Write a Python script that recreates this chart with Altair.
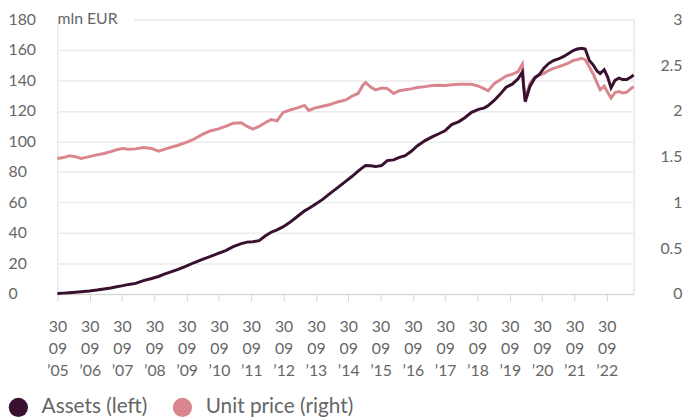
import altair as alt
import pandas as pd

dates = [
    "2005-09-30", "2005-12-05", "2006-02-15", "2006-04-20", "2006-06-25", "2006-09-25",
    "2006-12-20", "2007-03-10", "2007-05-25", "2007-08-01", "2007-10-10", "2007-12-15",
    "2008-03-01", "2008-05-30", "2008-08-30", "2008-11-15", "2009-01-20", "2009-03-28",
    "2009-06-25", "2009-09-25", "2009-12-20", "2010-03-20", "2010-06-20", "2010-09-15",
    "2010-12-15", "2011-03-10", "2011-06-10", "2011-08-15", "2011-10-20", "2011-12-28",
    "2012-03-05", "2012-05-12", "2012-07-18", "2012-09-22", "2012-12-10", "2013-02-25",
    "2013-05-25", "2013-07-10", "2013-09-15", "2013-12-15", "2014-03-10", "2014-06-10",
    "2014-09-05", "2014-11-10", "2015-01-20", "2015-03-15", "2015-04-15", "2015-06-10",
    "2015-08-05", "2015-10-12", "2015-12-15", "2016-02-25", "2016-05-01", "2016-07-05",
    "2016-09-12", "2016-11-18", "2017-02-15", "2017-05-05", "2017-07-20", "2017-09-28",
    "2017-12-12", "2018-03-05", "2018-05-10", "2018-07-25", "2018-10-12", "2018-12-18",
    "2019-01-30", "2019-04-10", "2019-06-15", "2019-08-20", "2019-10-28", "2020-01-02",
    "2020-02-20", "2020-03-05", "2020-03-23", "2020-05-15", "2020-07-10", "2020-09-01",
    "2020-10-20", "2020-12-12", "2021-02-05", "2021-04-01", "2021-05-28", "2021-07-22",
    "2021-09-16", "2021-11-02", "2021-12-20", "2022-01-30", "2022-03-18", "2022-05-02",
    "2022-06-15", "2022-07-18", "2022-09-02", "2022-10-12", "2022-11-18", "2023-01-02",
    "2023-02-15", "2023-03-30", "2023-05-15", "2023-06-28", "2023-07-31",
]

assets = [
    0.4, 0.6, 0.9, 1.2, 1.5, 2.0,
    2.6, 3.3, 4.0, 4.8, 5.5, 6.3,
    7.0, 8.8, 10.2, 11.5, 13.0, 14.3,
    16.2, 18.3, 20.5, 22.5, 24.5, 26.5,
    28.5, 31.0, 33.0, 34.0, 34.3, 35.0,
    38.0, 40.5, 42.0, 44.0, 47.0, 50.5,
    54.5, 56.0, 58.5, 62.0, 66.0, 70.0,
    74.0, 77.0, 80.5, 83.0, 84.2, 84.0,
    83.5, 84.2, 87.4, 87.9, 89.5, 90.6,
    93.5, 97.0, 100.5, 103.0, 105.0, 107.0,
    111.0, 113.0, 115.5, 119.0, 121.0, 122.0,
    123.5, 127.0, 131.0, 135.5, 137.5, 141.0,
    145.5, 136.0, 126.0, 136.0, 141.5, 144.0,
    148.0, 151.0, 153.0, 154.0, 155.5, 157.5,
    159.5, 160.5, 161.0, 160.5, 153.0, 150.0,
    146.0, 144.5, 147.0, 142.0, 135.0, 140.0,
    141.5, 140.5, 140.5, 142.0, 143.5,
]

unit_price = [
    1.48, 1.49, 1.51, 1.50, 1.48, 1.50,
    1.52, 1.535, 1.555, 1.575, 1.59, 1.58,
    1.585, 1.60, 1.59, 1.56, 1.58, 1.60,
    1.625, 1.655, 1.69, 1.74, 1.78, 1.80,
    1.83, 1.865, 1.87, 1.83, 1.80, 1.83,
    1.87, 1.905, 1.89, 1.98, 2.01, 2.03,
    2.06, 2.005, 2.03, 2.05, 2.07, 2.10,
    2.12, 2.16, 2.19, 2.28, 2.31, 2.26,
    2.23, 2.25, 2.245, 2.19, 2.22, 2.23,
    2.24, 2.255, 2.265, 2.277, 2.28, 2.277,
    2.285, 2.29, 2.29, 2.29, 2.27, 2.24,
    2.22, 2.30, 2.34, 2.38, 2.40, 2.43,
    2.51, 2.30, 2.12, 2.30, 2.37, 2.39,
    2.41, 2.44, 2.465, 2.48, 2.50, 2.52,
    2.55, 2.56, 2.575, 2.56, 2.48, 2.40,
    2.30, 2.23, 2.27, 2.20, 2.14, 2.20,
    2.21, 2.195, 2.205, 2.24, 2.265,
]

series_names = ["Assets (left)", "Unit price (right)"]
series_colors = ["#3a1030", "#d9868f"]
tick_years = list(range(2005, 2023))
left_ticks = list(range(0, 181, 20))
right_ticks = [0, 0.5, 1, 1.5, 2, 2.5, 3]
unit_label = "mln EUR"

df = pd.DataFrame({"date": dates, "assets": assets, "price": unit_price})
legend_df = pd.DataFrame({"series": series_names})
label_df = pd.DataFrame({"label": [unit_label]})

FONT = "Lato"
GRAY = "#666666"

x = alt.X(
    "date:T",
    scale=alt.Scale(domain=[alt.DateTime(year=2005, month=9, date=30),
                            alt.DateTime(year=2023, month=7, date=31)]),
    axis=alt.Axis(
        title=None,
        values=[alt.DateTime(year=y, month=9, date=30) for y in tick_years],
        labelExpr="['30', '09', '\u2019' + timeFormat(datum.value, '%y')]",
        labelFont=FONT,
        labelFontSize=16,
        labelColor=GRAY,
        labelLineHeight=22,
        labelBaseline="top",
        labelPadding=18,
        labelAlign="center",
        tickSize=7,
        tickColor="#d4d4d4",
        domainColor="#d4d4d4",
        grid=False,
        labelOverlap=False,
    ),
)

price_layer = alt.Chart(df).mark_line(strokeWidth=3, color=series_colors[1]).encode(
    x=x,
    y=alt.Y(
        "price:Q",
        scale=alt.Scale(domain=[0, 3]),
        axis=alt.Axis(
            title=None,
            orient="right",
            values=right_ticks,
            format="~g",
            labelAlign="right",
            labelBaseline="middle",
            labelPadding=49,
            labelFont=FONT,
            labelFontSize=16,
            labelColor=GRAY,
            ticks=False,
            domain=False,
            grid=False,
        ),
    ),
)

assets_layer = alt.Chart(df).mark_line(strokeWidth=3, color=series_colors[0]).encode(
    x=x,
    y=alt.Y(
        "assets:Q",
        scale=alt.Scale(domain=[0, 180]),
        axis=alt.Axis(
            title=None,
            orient="left",
            values=left_ticks,
            labelAlign="left",
            labelBaseline="middle",
            labelPadding=50,
            labelFont=FONT,
            labelFontSize=16,
            labelColor=GRAY,
            ticks=False,
            domain=False,
            grid=True,
            gridColor="#ebebeb",
            gridWidth=1.5,
        ),
    ),
)

legend_layer = alt.Chart(legend_df).mark_circle(opacity=0).encode(
    x=alt.value(0),
    y=alt.value(0),
    color=alt.Color(
        "series:N",
        scale=alt.Scale(domain=series_names, range=series_colors),
        legend=alt.Legend(
            title=None,
            orient="none",
            legendX=-50,
            legendY=382,
            direction="horizontal",
            symbolType="circle",
            symbolSize=380,
            symbolOpacity=1,
            symbolStrokeWidth=0,
            labelFontSize=21,
            labelFont=FONT,
            labelColor=GRAY,
            labelOffset=13,
            columnPadding=25,
            padding=0,
        ),
    ),
)

mask = alt.Chart(label_df).mark_rect(color="white").encode(
    x=alt.value(0), x2=alt.value(78), y=alt.value(-6), y2=alt.value(6)
)

unit_text = alt.Chart(label_df).mark_text(
    align="left", baseline="middle", font=FONT, fontSize=16, color=GRAY
).encode(x=alt.value(0), y=alt.value(0), text="label:N")

chart = alt.layer(price_layer, assets_layer, legend_layer, mask, unit_text).resolve_scale(
    y="independent"
).properties(
    width=583,
    height=278,
    autosize=alt.AutoSizeParams(type="none"),
    padding={"left": 50, "top": 9, "right": 50, "bottom": 123},
).configure_view(stroke=None).configure(font=FONT)

chart.save("out.html", embed_options={"renderer": "svg", "actions": False})
